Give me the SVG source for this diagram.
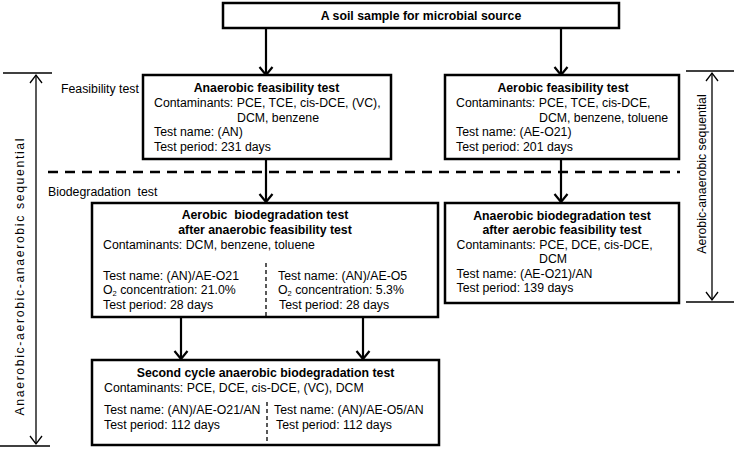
<svg xmlns="http://www.w3.org/2000/svg" width="734" height="449" viewBox="0 0 734 449">
<style>
text{font-family:"Liberation Sans",Arial,sans-serif;font-size:12.3px;fill:#000}
.b{font-weight:bold}
.c{text-anchor:middle}
.sub{font-size:7.5px}
.box{fill:#fff;stroke:#000;stroke-width:2.5}
.arr{stroke:#000;stroke-width:2.2;fill:none}
.dim{stroke:#000;stroke-width:1.3;fill:none}
.div{stroke:#000;stroke-width:1.3;stroke-dasharray:4 3;fill:none}
</style>
<defs>
<marker id="ah" viewBox="-10 -8 12 16" refX="0" refY="0" markerWidth="12" markerHeight="16" orient="auto" markerUnits="userSpaceOnUse">
<path d="M-8,-6.5 L0,0 L-8,6.5" fill="none" stroke="#000" stroke-width="2.2"/>
</marker>
<marker id="ahs" viewBox="-10 -8 12 16" refX="0" refY="0" markerWidth="12" markerHeight="16" orient="auto-start-reverse" markerUnits="userSpaceOnUse">
<path d="M-8,-6 L0,0 L-8,6" fill="none" stroke="#000" stroke-width="1.3"/>
</marker>
</defs>

<g id="connectors">
<line class="arr" x1="266" y1="28" x2="266" y2="75" marker-end="url(#ah)"/>
<line class="arr" x1="561" y1="28" x2="561" y2="75" marker-end="url(#ah)"/>
<line class="arr" x1="266" y1="159" x2="266" y2="202" marker-end="url(#ah)"/>
<line class="arr" x1="561" y1="159" x2="561" y2="202" marker-end="url(#ah)"/>
<line class="arr" x1="181" y1="317" x2="181" y2="359" marker-end="url(#ah)"/>
<line class="arr" x1="363" y1="317" x2="363" y2="359" marker-end="url(#ah)"/>
</g>

<g id="phase-divider">
<line x1="48" y1="172" x2="680" y2="172" stroke="#000" stroke-width="2.5" stroke-dasharray="10 7"/>
<text x="61" y="93">Feasibility test</text>
<text x="48" y="196" style="white-space:pre">Biodegradation  test</text>
</g>

<g id="seq-left">
<line class="dim" x1="3" y1="73" x2="52" y2="73"/>
<line class="dim" x1="0" y1="446" x2="50" y2="446"/>
<line class="dim" x1="36" y1="75" x2="36" y2="444" marker-start="url(#ahs)" marker-end="url(#ahs)"/>
<text transform="translate(24,277) rotate(-90)" class="c" textLength="277" lengthAdjust="spacing">Anaerobic-aerobic-anaerobic sequential</text>
</g>

<g id="seq-right">
<line class="dim" x1="686" y1="71" x2="734" y2="71"/>
<line class="dim" x1="686" y1="302" x2="734" y2="302"/>
<line class="dim" x1="712" y1="73" x2="712" y2="300" marker-start="url(#ahs)" marker-end="url(#ahs)"/>
<text transform="translate(706,174) rotate(-90)" class="c">Aerobic-anaerobic sequential</text>
</g>

<g id="soil">
<rect class="box" x="223" y="3" width="396" height="25"/>
<text x="421" y="19.5" class="b c">A soil sample for microbial source</text>
</g>

<g id="anaerobic-feasibility">
<rect class="box" x="143" y="75" width="248" height="84"/>
<text x="266.5" y="91.5" class="b c">Anaerobic feasibility test</text>
<text x="154" y="107">Contaminants: PCE, TCE, cis-DCE, (VC),</text>
<text x="237" y="121.5">DCM, benzene</text>
<text x="154" y="136">Test name: (AN)</text>
<text x="154" y="151">Test period: 231 days</text>
</g>

<g id="aerobic-feasibility">
<rect class="box" x="445" y="75" width="234" height="84"/>
<text x="563" y="91.5" class="b c">Aerobic feasibility test</text>
<text x="456" y="107">Contaminants: PCE, TCE, cis-DCE,</text>
<text x="539" y="121.5">DCM, benzene, toluene</text>
<text x="456" y="136">Test name: (AE-O21)</text>
<text x="456" y="151">Test period: 201 days</text>
</g>

<g id="aerobic-biodegradation">
<rect class="box" x="92" y="203" width="346" height="114"/>
<text x="265" y="219" class="b c" style="white-space:pre">Aerobic  biodegradation test</text>
<text x="265" y="234" class="b c">after anaerobic feasibility test</text>
<text x="103" y="249">Contaminants: DCM, benzene, toluene</text>
<line class="div" x1="266" y1="263" x2="266" y2="316"/>
<text x="103" y="280">Test name: (AN)/AE-O21</text>
<text x="103" y="294">O<tspan class="sub" dy="2">2</tspan><tspan dy="-2"> concentration: 21.0%</tspan></text>
<text x="103" y="308.5">Test period: 28 days</text>
<text x="278" y="280">Test name: (AN)/AE-O5</text>
<text x="278" y="294">O<tspan class="sub" dy="2">2</tspan><tspan dy="-2"> concentration: 5.3%</tspan></text>
<text x="279" y="308.5">Test period: 28 days</text>
</g>

<g id="anaerobic-biodegradation">
<rect class="box" x="445" y="203" width="234" height="100"/>
<text x="562" y="220" class="b c">Anaerobic biodegradation test</text>
<text x="562" y="234" class="b c">after aerobic feasibility test</text>
<text x="456.5" y="248.5">Contaminants: PCE, DCE, cis-DCE,</text>
<text x="539" y="263">DCM</text>
<text x="456.5" y="277.5">Test name: (AE-O21)/AN</text>
<text x="456.5" y="292">Test period: 139 days</text>
</g>

<g id="second-cycle">
<rect class="box" x="92" y="360" width="347" height="85"/>
<text x="265.5" y="377" class="b c">Second cycle anaerobic biodegradation test</text>
<text x="104" y="392">Contaminants: PCE, DCE, cis-DCE, (VC), DCM</text>
<line class="div" x1="267" y1="402" x2="267" y2="444"/>
<text x="104" y="413.5">Test name: (AN)/AE-O21/AN</text>
<text x="104" y="428.5">Test period: 112 days</text>
<text x="274" y="413.5">Test name: (AN)/AE-O5/AN</text>
<text x="276" y="428.5">Test period: 112 days</text>
</g>
</svg>
